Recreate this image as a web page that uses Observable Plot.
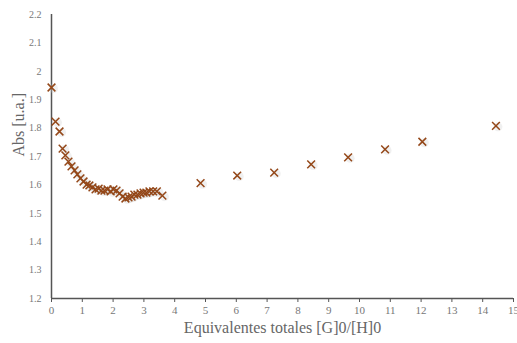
<!DOCTYPE html>
<html><head><meta charset="utf-8">
<script src="https://cdn.jsdelivr.net/npm/d3@7"></script>
<script src="https://cdn.jsdelivr.net/npm/@observablehq/plot@0.6"></script>
<style>
html,body{margin:0;padding:0;background:#fff;}
#chart{width:517px;height:343px;overflow:hidden;}
#chart svg, #chart svg text{font-family:"Liberation Serif","DejaVu Serif",serif !important;}
</style></head>
<body><div id="chart"></div>
<script>
const equivalents = [0, 0.13, 0.26, 0.36, 0.45, 0.55, 0.65, 0.75, 0.84, 0.94, 1.04, 1.14, 1.23, 1.33, 1.43, 1.53, 1.62, 1.72, 1.82, 1.92, 2.01, 2.11, 2.21, 2.31, 2.40, 2.50, 2.60, 2.69, 2.79, 2.89, 2.99, 3.08, 3.18, 3.30, 3.42, 3.60, 4.84, 6.03, 7.23, 8.43, 9.63, 10.83, 12.04, 14.43];
const absorbance = [1.943, 1.823, 1.788, 1.728, 1.704, 1.682, 1.665, 1.651, 1.637, 1.623, 1.612, 1.601, 1.598, 1.591, 1.584, 1.587, 1.580, 1.580, 1.584, 1.577, 1.584, 1.580, 1.570, 1.559, 1.552, 1.556, 1.559, 1.566, 1.566, 1.570, 1.573, 1.573, 1.577, 1.577, 1.577, 1.562, 1.606, 1.633, 1.643, 1.672, 1.697, 1.725, 1.752, 1.808];
const xTicks = d3.range(0, 16);
const yTicks = [1.2, 1.3, 1.4, 1.5, 1.6, 1.7, 1.8, 1.9, 2, 2.1, 2.2];
const data = equivalents.map((x, i) => ({x, y: absorbance[i]}));

const chart = Plot.plot({
  width: 517, height: 343,
  marginLeft: 51, marginRight: 4, marginTop: 14, marginBottom: 45,
  style: {fontSize: "10px", color: "#777", background: "#fff", overflow: "visible"},
  x: {domain: [0, 15], label: null},
  y: {domain: [1.2, 2.2], label: null},
  marks: [
    Plot.axisX({ticks: xTicks, tickFormat: d => d, tickSize: 4, tickPadding: 4, stroke: "#555", fill: "#777", fontSize: 11}),
    Plot.axisY({ticks: yTicks, tickFormat: d => d, tickSize: 0, tickPadding: 10, fill: "#777", fontSize: 10}),
    Plot.ruleX([0], {stroke: "#555", strokeWidth: 1.5}),
    Plot.ruleY([1.2], {stroke: "#555", strokeWidth: 1.5}),
    Plot.dot(data, {x: "x", y: "y", r: 4.5, fill: "#ccc", stroke: "none", fillOpacity: 0.3, dx: 2, dy: 1}),
    Plot.dot(data, {x: "x", y: "y", symbol: "times", r: 3.6, stroke: "#944718", strokeWidth: 1.5}),
    Plot.text(["Abs [u.a.]"], {frameAnchor: "left", dx: -33, rotate: -90, fontSize: 16, fill: "#666"}),
    Plot.text(["Equivalentes totales [G]0/[H]0"], {frameAnchor: "bottom", dy: 34, fontSize: 16, fill: "#666"})
  ]
});
document.getElementById("chart").appendChild(chart);
</script></body></html>
